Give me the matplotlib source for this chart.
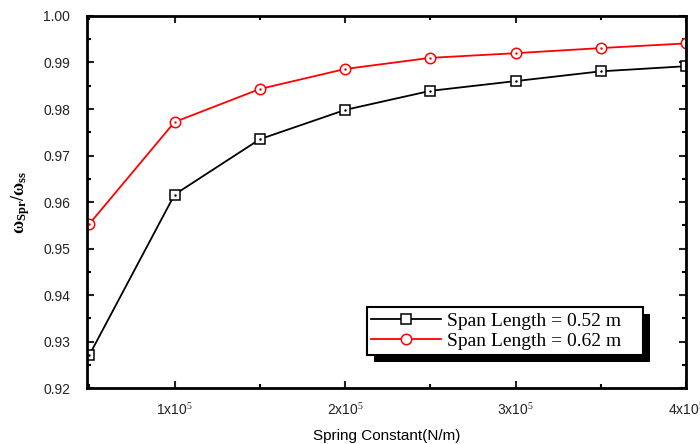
import matplotlib
matplotlib.use("Agg")
import matplotlib.pyplot as plt
from matplotlib.ticker import MultipleLocator, FuncFormatter
from matplotlib.patches import Rectangle

# data
spring_k = [0.5e5, 1.0e5, 1.5e5, 2.0e5, 2.5e5, 3.0e5, 3.5e5, 4.0e5]
ratio_052 = [0.9271, 0.9616, 0.9735, 0.9798, 0.9839, 0.9860, 0.9881, 0.9892]
ratio_062 = [0.9553, 0.9772, 0.9843, 0.9886, 0.9910, 0.9920, 0.9931, 0.9941]
labels = ['Span Length = 0.52 m', 'Span Length = 0.62 m']

plt.rcParams['font.family'] = 'Liberation Sans'
plt.rcParams['mathtext.fontset'] = 'custom'
plt.rcParams['mathtext.rm'] = 'Liberation Serif'
plt.rcParams['mathtext.it'] = 'Liberation Serif:italic'
plt.rcParams['mathtext.bf'] = 'Liberation Serif:bold'

fig = plt.figure(figsize=(7, 4.44), dpi=100)
ax = fig.add_axes([0.124, 0.126, 0.856, 0.838])

ax.plot(spring_k, ratio_052, color='black', lw=1.3, marker='s', ms=7,
        mfc='white', mec='black', mew=1.1, label=labels[0])
ax.plot(spring_k, ratio_062, color='red', lw=1.3, marker='o', ms=7.5,
        mfc='white', mec='red', mew=1.1, label=labels[1])
# little centre dots in the markers
ax.plot(spring_k, ratio_052, ls='none', marker='.', ms=1.5, color='black')
ax.plot(spring_k, ratio_062, ls='none', marker='.', ms=1.5, color='red')

ax.set_xlim(0.485e5, 4.0e5)
ax.set_ylim(0.92, 1.00)
ax.xaxis.set_major_locator(MultipleLocator(1e5))
ax.xaxis.set_minor_locator(MultipleLocator(0.5e5))
ax.yaxis.set_major_locator(MultipleLocator(0.01))
ax.yaxis.set_minor_locator(MultipleLocator(0.005))
ax.xaxis.set_major_formatter(FuncFormatter(lambda v, p: '%dx10$^{5}$' % round(v / 1e5)))
ax.yaxis.set_major_formatter(FuncFormatter(lambda v, p: '%.2f' % v))

ax.tick_params(which='both', direction='in', top=True, right=True, width=1.5)
ax.tick_params(which='major', length=5, labelsize=10, colors='#222222')
ax.tick_params(which='minor', length=3)
ax.tick_params(axis='x', pad=10)
ax.tick_params(axis='y', pad=12)
for s in ax.spines.values():
    s.set_linewidth(2)

ax.set_xlabel('Spring Constant(N/m)', fontsize=11, labelpad=8)
ax.set_ylabel(r'$\mathbf{\omega_{Spr}/\omega_{ss}}$', fontsize=13, labelpad=8)

leg = ax.legend(loc='lower left', bbox_to_anchor=(0.467, 0.089, 0.461, 0.13),
                mode='expand', frameon=True,
                fancybox=False, edgecolor='black', framealpha=1,
                prop={'family': 'Liberation Serif', 'size': 14},
                handlelength=3.6, handletextpad=0.3, borderpad=0.25,
                borderaxespad=0, labelspacing=0.15)
leg.get_frame().set_linewidth(1.5)

# black drop shadow behind the legend
fig.canvas.draw()
bb = leg.get_window_extent().transformed(ax.transAxes.inverted())
dx, dy = 7 / (0.856 * 700), 7 / (0.838 * 444)
ax.add_patch(Rectangle((bb.x0 + dx, bb.y0 - dy), bb.width, bb.height,
                       transform=ax.transAxes, facecolor='black',
                       edgecolor='none', zorder=4.9, clip_on=False))

fig.savefig('out.png', dpi=100)
